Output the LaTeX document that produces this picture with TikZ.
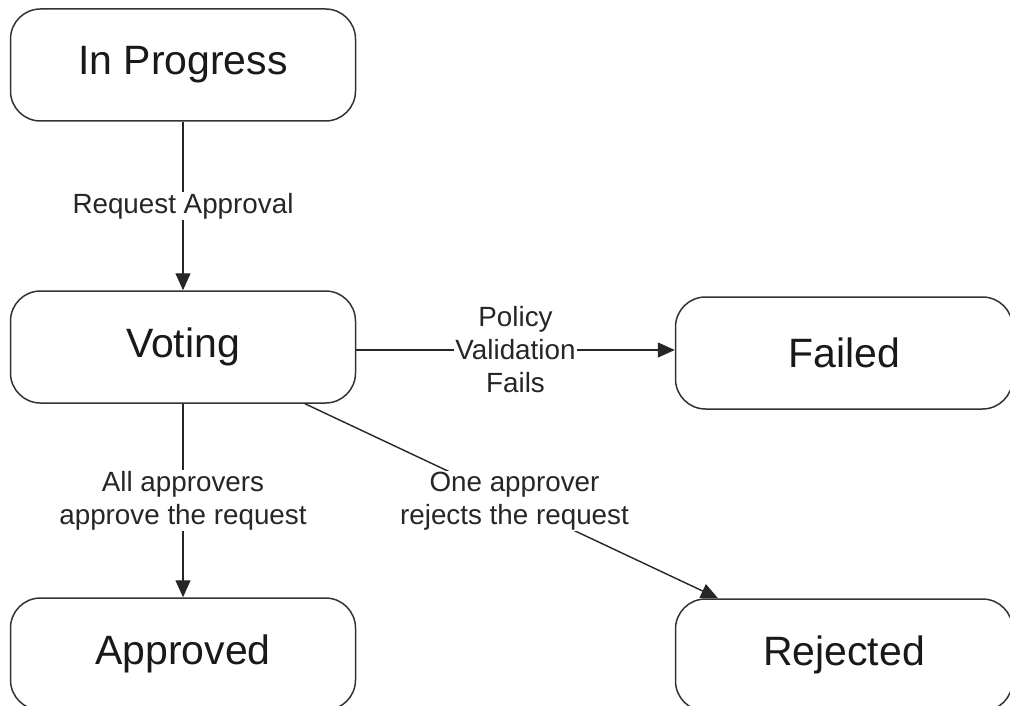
\documentclass[tikz,border=0pt]{standalone}
\usepackage{fontspec}
\setmainfont{Liberation Sans}
\usetikzlibrary{arrows.meta}
\begin{document}
\begin{tikzpicture}[x=1pt,y=-1pt,
  state/.style={draw=black!80, line width=1.5pt, rounded corners=30pt,
    minimum width=345pt, minimum height=112pt, inner sep=0pt,
    font=\fontsize{41}{45}\selectfont, text=black!90},
  arr/.style={draw=black!85, line width=1.4pt, -{Triangle[length=17pt,width=15pt]}},
  lbl/.style={fill=white, inner sep=1pt, align=center, text=black!85,
    font=\fontsize{27.8}{33}\selectfont}]
\clip (0,0) rectangle (1010,706);
\fill[white] (0,0) rectangle (1010,706);
\node[state] (ip) at (183,65) {\raisebox{-2pt}{In Progress}};
\node[state] (vot) at (183,347) {\raisebox{-2pt}{Voting}};
\node[state, minimum width=337pt] (fail) at (844,353) {\raisebox{-1pt}{Failed}};
\node[state] (app) at (183,654) {\raisebox{-2pt}{Approved}};
\node[state, minimum width=337pt] (rej) at (844,655) {\raisebox{-1pt}{Rejected}};
\draw[arr] (ip.south) -- node[lbl] {Request Approval} (vot.north);
\draw[arr] ([yshift=-3pt]vot.east) -- node[lbl] {Policy\\Validation\\Fails} ([yshift=3pt]fail.west);
\draw[arr] (vot.south) -- node[lbl] {All approvers\\approve the request} (app.north);
\draw[arr] ([xshift=122pt]vot.south) -- node[lbl, xshift=3pt] {One approver\\rejects the request} ([xshift=-126pt]rej.north);
\end{tikzpicture}
\end{document}
